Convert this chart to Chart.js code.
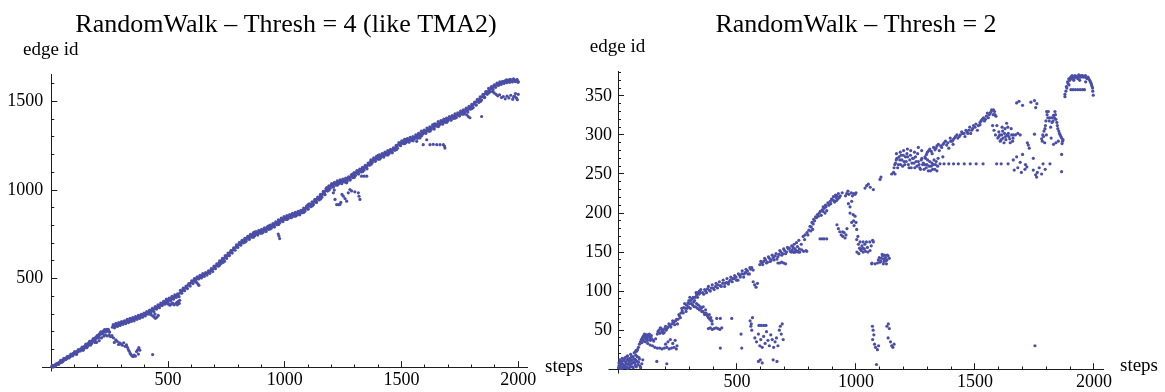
<!DOCTYPE html>
<html><head><meta charset="utf-8">
<script src="https://cdn.jsdelivr.net/npm/chart.js@4"></script>
<style>
html,body{margin:0;padding:0;background:#fff;width:1165px;height:392px;overflow:hidden}
canvas{position:absolute;top:0}
#cA{left:0}
#cB{left:582px}
</style></head><body>
<canvas id="cA" width="582" height="392"></canvas>
<canvas id="cB" width="583" height="392"></canvas>
<script>
// ---------- text / tick labels ----------
const titleA = "RandomWalk – Thresh = 4 (like TMA2)";
const titleB = "RandomWalk – Thresh = 2";
const xAxisLabel = "steps";
const yAxisLabel = "edge id";
const xTickLabels = [500, 1000, 1500, 2000];
const yTickLabelsA = [500, 1000, 1500];
const yTickLabelsB = [50, 100, 150, 200, 250, 300, 350];

// ---------- left chart: Thresh = 4 (step, edge id) ----------
const startA = [[2,3],[5,1],[8,8],[11,5],[14,12],[17,9],[20,17],[23,14],[27,22],[30,19],[34,28],[37,25],[41,33],[44,30],[48,40],[52,36],[55,46],[59,42],[63,52],[66,48],[70,58],[74,55],[78,64],[82,60],[86,70],[90,67],[94,78],[98,74],[102,84],[106,80],[110,90],[114,86],[118,97],[122,93],[126,104],[130,100],[134,111],[138,107],[142,118],[146,114],[150,126],[154,121],[158,134],[162,129],[166,142],[170,137],[174,150],[178,146],[182,158],[186,154],[190,168],[194,163],[198,180],[202,175],[206,188],[210,184],[214,196],[218,192],[222,204],[226,199],[230,210],[234,206],[238,214],[242,209],[246,204],[250,198],[108,72],[136,95],[152,110],[168,125],[186,140],[194,140],[205,150],[215,165],[225,175]];
const startA2 = [[4,10],[9,2],[16,6],[24,20],[32,16],[40,38],[46,28],[54,50],[62,44],[68,60],[76,52],[84,74],[92,64],[100,88],[108,80],[116,100],[124,92],[132,114],[140,104],[148,130],[156,118],[164,146],[172,132],[180,162],[188,148],[196,176],[204,168],[212,200],[220,190],[228,212],[236,200],[244,214]];
const dipA = [[232,182],[240,176],[248,182],[254,172],[260,178],[266,166],[270,140],[276,155],[282,146],[288,128],[292,138],[298,132],[304,124],[310,138],[316,118],[322,126],[326,112],[330,100],[334,90],[338,78],[342,70],[346,64],[350,60],[355,68],[360,62],[365,88],[370,98],[375,110],[379,96],[373,74],[434,71]];
const bandA1 = [[262,226],[268,232],[274,236],[280,240],[286,238],[292,244],[298,248],[304,250],[310,254],[316,252],[322,258],[328,262],[334,260],[340,266],[346,270],[352,268],[358,274],[364,278],[370,282],[376,280],[382,288],[388,292],[394,296],[400,300],[406,304],[412,302],[418,310],[424,316],[430,320],[436,324],[442,330],[448,334],[454,340],[460,344],[466,350],[472,356],[478,360],[484,364],[490,370],[496,374],[502,380],[508,384],[514,388],[520,392],[526,396],[532,400],[538,404],[544,408],[426,296],[434,290],[440,284],[446,276],[452,282],[458,292],[444,300],[496,362],[502,356],[508,350],[514,356],[520,362],[526,352],[532,358],[538,366],[544,372],[550,378],[548,360],[540,352]];
const bandA2 = [[552,420],[558,428],[564,436],[570,444],[576,450],[582,458],[588,464],[594,472],[600,478],[606,486],[612,492],[618,498],[624,502],[630,506],[636,510],[642,514],[648,518],[654,522],[660,526],[666,530],[672,534],[678,540],[684,546],[690,552],[696,560],[702,568],[708,575],[714,582],[720,590],[726,598],[732,605],[738,612],[744,620],[750,626],[756,634],[762,642],[768,650],[774,658],[780,665],[786,672],[792,680],[798,688],[615,485],[622,478],[628,470],[632,462],[720,575],[736,592],[742,598],[760,630]];
const bandA3 = [[804,694],[810,700],[816,708],[822,712],[828,718],[834,724],[840,730],[846,736],[852,740],[858,744],[864,748],[870,752],[876,756],[882,758],[888,762],[894,766],[900,768],[906,772],[912,776],[918,778],[924,782],[930,788],[936,792],[942,796],[948,800],[954,806],[960,810],[966,816],[972,822],[978,828],[984,832],[990,836],[996,840],[1002,844],[1008,846],[1014,850],[1020,852],[1026,856],[1032,858],[1038,862],[1044,864],[1050,866],[1056,870],[1062,872],[1068,876],[1074,882],[1080,888],[1086,894],[1092,900],[1098,906],[1104,912],[1110,918],[1116,924],[1122,930],[1128,938],[1134,944],[1140,950],[1146,958],[1152,966],[1158,974],[1164,982],[1170,990],[1176,998],[1182,1006],[1188,1014],[1194,1021],[1200,1026],[1206,1030],[1212,1034],[1218,1038],[1224,1042],[1230,1044],[1236,1048],[1242,1050],[1248,1052],[1254,1055],[1260,1058],[1266,1060],[1272,1064],[1278,1070],[1284,1076],[1290,1082],[1296,1088],[1302,1094],[1308,1100],[1314,1104],[1320,1108],[1326,1114],[1332,1118],[1338,1124],[1344,1130],[1350,1134],[1356,1142],[1362,1152],[1368,1160],[1374,1166],[1380,1172],[1386,1176],[1392,1180],[1398,1184],[1404,1188],[1410,1192],[1416,1196],[1422,1200],[1428,1204],[1434,1208],[1440,1212],[1446,1216],[1452,1220],[1458,1224],[1464,1228],[1470,1234],[1476,1242],[1482,1250],[1488,1258],[1494,1264],[1500,1268],[1508,1272],[1516,1276],[1524,1280],[1532,1284],[1540,1288],[1548,1292],[1556,1298],[1564,1304],[1572,1310],[1580,1316],[1588,1322],[1596,1328],[1604,1334],[1612,1340],[1620,1346],[1628,1352],[1636,1359],[1644,1364],[1652,1370],[1660,1376],[1668,1382],[1676,1386],[1684,1392],[1692,1397],[1700,1402],[1708,1406],[1716,1412],[1724,1416],[1732,1420],[1740,1426],[1748,1432],[1756,1438],[1764,1442],[1772,1448],[1780,1454],[1788,1462],[1796,1470],[1804,1478],[1812,1488],[1820,1498],[1828,1506],[1836,1516],[1844,1526],[1852,1536],[1860,1546],[1868,1556],[1876,1566],[1884,1574],[1892,1582],[1900,1590],[1908,1596],[1916,1600],[1924,1604],[1932,1608],[1940,1610],[1948,1612],[1956,1614],[1964,1616],[1972,1618],[1980,1620],[1988,1618],[1996,1616]];
const thickA = [[265,240],[271,222],[277,248],[283,230],[289,252],[295,236],[301,258],[307,242],[313,262],[319,246],[325,270],[331,252],[337,276],[343,258],[349,280],[355,262],[361,286],[367,270],[373,292],[379,276],[385,298],[391,282],[397,306],[403,290],[409,314],[415,300],[421,322],[427,306],[433,332],[439,314],[445,342],[451,328],[457,352],[463,336],[469,362],[475,348],[481,372],[487,356],[493,384],[499,366],[505,390],[511,374],[517,400],[523,384],[529,408],[535,394],[541,414],[547,398],[553,434],[559,418],[565,446],[571,432],[577,458],[583,444],[589,472],[595,458],[601,488],[607,472],[613,500],[619,488],[625,510],[631,498],[637,518],[643,504],[649,528],[655,512],[661,534],[667,520],[673,544],[679,530],[685,556],[691,540],[697,570],[703,556],[709,584],[715,570],[721,600],[727,586],[733,614],[739,600],[745,630],[751,614],[757,644],[763,630],[769,658],[775,644],[781,674],[787,660],[793,690],[799,676],[805,704],[811,690],[817,716],[823,702],[829,728],[835,712],[841,738],[847,724],[853,750],[859,734],[865,758],[871,742],[877,766],[883,750],[889,772],[895,756],[901,778],[907,762],[913,786],[919,770],[925,792],[931,778],[937,802],[943,786],[949,810],[955,794],[961,820],[967,804],[973,832],[979,816],[985,842],[991,826],[997,850],[1003,834],[1009,856],[1015,840],[1021,862],[1027,846],[1033,868],[1039,852],[1045,874],[1051,858],[1057,880],[1063,864],[1069,886],[1075,872],[1081,898],[1087,882],[1093,910],[1099,894],[1105,922],[1111,906],[1117,934],[1123,918],[1129,948],[1135,932],[1141,960],[1147,944],[1153,976],[1159,960],[1165,992],[1171,976],[1177,1008],[1183,994],[1189,1024],[1195,1010],[1201,1036],[1207,1020],[1213,1044],[1219,1028],[1225,1052],[1231,1036],[1237,1058],[1243,1040],[1249,1062],[1255,1046],[1261,1068],[1267,1050],[1273,1074],[1279,1060],[1285,1086],[1291,1070],[1297,1098],[1303,1082],[1309,1110],[1315,1094],[1321,1118],[1327,1102],[1333,1128],[1339,1112],[1345,1140],[1351,1124],[1357,1152],[1363,1140],[1369,1170],[1375,1156],[1381,1182],[1387,1166],[1393,1190],[1399,1174],[1405,1198],[1411,1182],[1417,1206],[1423,1190],[1429,1214],[1435,1198],[1441,1222],[1447,1206],[1453,1230],[1459,1214],[1465,1238],[1471,1224],[1477,1252],[1483,1236],[1489,1268],[1495,1254],[1501,1278],[1507,1262],[1513,1286],[1519,1268],[1525,1290],[1531,1274],[1537,1298],[1543,1280],[1549,1302],[1555,1288],[1561,1312],[1567,1296],[1573,1320],[1579,1304],[1585,1332],[1591,1316],[1597,1338],[1603,1322],[1609,1350],[1615,1332],[1621,1356],[1627,1342],[1633,1368],[1639,1352],[1645,1374],[1651,1360],[1657,1386],[1663,1368],[1669,1392],[1675,1376],[1681,1400],[1687,1382],[1693,1406],[1699,1392],[1705,1414],[1711,1398],[1717,1420],[1723,1404],[1729,1430],[1735,1410],[1741,1436],[1747,1420],[1753,1446],[1759,1428],[1765,1452],[1771,1436],[1777,1462],[1783,1446],[1789,1472],[1795,1456],[1801,1484],[1807,1466],[1813,1496],[1819,1480],[1825,1512],[1831,1494],[1837,1526],[1843,1508],[1849,1540],[1855,1522],[1861,1556],[1867,1540],[1873,1574],[1879,1556],[1885,1584],[1891,1570],[1897,1594],[1903,1580],[1909,1604],[1915,1590],[1921,1610],[1927,1596],[1933,1614],[1939,1602],[1945,1618],[1951,1606],[1957,1620],[1963,1608],[1969,1622],[1975,1610],[1981,1624],[1987,1612],[1993,1622],[1999,1608]];
const spreadA = [[812,690],[830,706],[848,722],[866,734],[884,746],[902,756],[920,766],[938,780],[956,792],[974,806],[992,822],[1010,834],[1028,844],[1046,852],[1064,860],[1082,874],[1100,892],[1118,910],[1136,930],[1154,950],[1172,974],[1190,1000],[1208,1016],[1226,1028],[1244,1036],[1262,1044],[1280,1056],[1298,1072],[1316,1090],[1334,1104],[1352,1120],[1370,1146],[1388,1162],[1406,1174],[1424,1186],[1442,1198],[1460,1210],[1478,1228],[1496,1250],[1514,1262],[1532,1270],[1550,1278],[1568,1292],[1586,1306],[1604,1320],[1622,1332],[1640,1344],[1658,1358],[1676,1372],[1694,1382],[1712,1394],[1730,1406],[1748,1418],[1766,1428],[1784,1440],[1802,1460],[1820,1480],[1838,1500],[1856,1524],[1874,1548],[1892,1566],[870,762],[930,796],[1010,852],[1100,918],[1180,1014],[1290,1090],[1400,1196],[1520,1286],[1640,1372],[1760,1446]];
const excursA = [[972,752],[975,740],[978,726],[1201,1031],[1208,984],[1215,947],[1222,918],[1230,918],[1236,918],[1265,937],[1251,965],[1245,975],[1258,952],[1272,984],[1279,1003],[1286,995],[1265,1041],[1300,990],[1315,984],[1322,947],[1318,965],[1329,1078],[1340,1078],[1351,1078],[1212,1000],[1240,930],[1565,1275],[1579,1294],[1593,1256],[1608,1284],[1622,1256],[1636,1258],[1651,1256],[1665,1256],[1679,1256],[1686,1237],[1684,1248],[1779,1425],[1786,1415],[1793,1408],[1843,1415]];
const topA = [[1890,1555],[1897,1548],[1905,1540],[1912,1532],[1920,1538],[1928,1522],[1936,1528],[1944,1515],[1952,1530],[1960,1520],[1968,1535],[1976,1512],[1984,1530],[1992,1520],[2000,1540],[1996,1510],[1988,1545],[1980,1525],[1950,1622],[1965,1625],[1980,1628],[1995,1624],[2000,1612]];

// ---------- right chart: Thresh = 2 (step, edge id) ----------
const originB = [[2,2],[4,8],[6,4],[8,12],[10,1],[12,6],[14,10],[16,3],[18,14],[20,7],[22,2],[25,11],[28,5],[30,15],[33,9],[36,3],[38,12],[40,17],[43,6],[46,10],[48,2],[50,14],[53,19],[56,7],[58,12],[60,3],[63,16],[66,9],[68,21],[70,13],[73,5],[75,18],[78,23],[80,10],[84,6],[88,15],[92,4],[5,5],[9,3],[13,9],[17,1],[21,11],[24,4],[27,13],[31,2],[34,7],[37,16],[41,1],[44,13],[47,8],[51,4],[54,11],[57,16],[61,8],[64,2],[67,13],[71,8],[74,12],[77,3],[81,16],[86,9],[90,13],[95,2],[100,7],[104,12]];
const riseB = [[72,22],[76,24],[82,25],[86,28],[90,32],[94,35],[98,38],[102,40],[106,42],[110,44],[114,41],[118,43],[122,40],[126,44],[130,42],[134,39],[138,41],[145,38],[150,36],[158,39],[165,45],[172,50],[178,53],[184,48],[190,46],[196,52],[202,50],[210,54],[218,56],[226,58],[234,60],[242,62],[250,58],[252,64],[258,68],[264,72],[270,75],[276,79],[282,78],[288,82],[294,85],[300,84],[306,88],[312,90],[318,86],[324,92],[330,95],[336,98],[342,100],[348,102],[286,74],[296,80],[304,78],[314,82],[320,80],[104,38],[108,42],[112,45],[116,39],[120,44],[124,37],[128,43],[132,45],[136,37],[140,43],[168,48],[176,46],[182,52],[188,50],[194,47],[200,55],[206,52],[214,58],[222,54],[230,62],[238,57],[246,64],[256,70],[262,66],[268,78],[274,72],[280,84],[290,78],[298,88],[302,92],[308,84],[316,92],[322,88],[328,98],[334,92],[340,96],[346,98]];
const lowB = [[100,34],[108,36],[115,35],[125,33],[135,31],[145,30],[155,28],[165,27],[175,27],[185,26],[195,27],[205,28],[215,26],[225,27],[235,28],[245,26],[200,32],[210,35],[220,38],[230,33],[240,37],[248,30],[163,10],[205,7]];
const dropB = [[326,80],[334,78],[342,76],[350,78],[356,74],[362,72],[368,76],[374,70],[380,66],[386,64],[392,62],[396,58],[380,52],[388,53],[396,51],[404,52],[412,53],[420,52],[428,51],[436,53],[415,65],[430,65],[478,65],[430,27],[517,45],[520,27],[330,84],[338,82],[346,80],[352,74],[358,80],[364,70],[370,72],[376,68],[384,70],[390,66],[395,62]];
const bandB1 = [[360,96],[368,100],[376,103],[384,101],[392,104],[400,104],[410,106],[420,108],[430,107],[440,110],[448,106],[456,111],[464,109],[472,114],[480,112],[488,116],[496,118],[504,114],[512,120],[520,122],[528,118],[536,124],[544,126],[552,122],[558,128],[562,130],[568,127],[568,112],[574,108],[580,105],[586,110],[596,134],[604,136],[612,138],[620,140],[628,137],[636,142],[644,140],[652,143],[660,145],[668,141],[676,147],[684,150],[692,148],[700,152],[708,150],[716,154],[724,151],[732,153],[740,150],[748,152],[756,151],[764,150],[772,153],[780,151],[790,152],[672,136],[680,136],[688,137],[696,136],[704,135]];
const bandB1b = [[356,98],[364,102],[372,98],[380,106],[388,100],[396,108],[404,102],[412,110],[418,104],[426,112],[434,106],[442,114],[450,110],[458,116],[466,112],[474,118],[482,116],[490,120],[498,114],[506,122],[514,118],[522,126],[530,122],[538,128],[546,122],[554,130],[600,138],[608,134],[616,142],[624,136],[632,144],[640,138],[648,146],[656,140],[664,148],[672,144],[680,152],[688,146],[696,154],[704,148],[712,156],[728,150],[736,156],[744,154],[754,157],[762,154],[770,160],[784,166],[798,172]];
const scatterB = [[555,62],[558,55],[562,50],[565,66],[560,58],[575,40],[582,35],[590,45],[596,30],[600,38],[606,28],[612,42],[618,33],[624,48],[630,37],[636,30],[642,44],[648,38],[654,28],[660,35],[666,40],[672,30],[678,50],[682,55],[686,45],[690,58],[694,38],[592,56],[602,56],[612,56],[622,56],[590,10],[598,12],[606,8],[652,12],[668,10]];
const bandB2 = [[720,155],[730,158],[740,160],[750,162],[760,165],[737,150],[745,150],[752,151],[758,150],[793,151],[778,170],[786,172],[794,175],[802,178],[810,177],[818,179],[807,183],[815,188],[822,192],[830,195],[838,198],[846,200],[854,197],[862,202],[870,200],[877,203],[849,167],[858,167],[866,167],[877,167],[862,208],[872,210],[882,213],[892,215],[902,217],[910,214],[918,216],[897,218],[905,221],[914,223],[920,222],[926,225],[930,220],[920,185],[926,180],[932,176],[938,172],[945,170],[950,175],[954,168],[961,225],[970,224],[980,226],[990,225],[996,224],[968,212],[975,208],[982,215],[975,200],[988,198],[996,196],[982,188],[992,184],[1003,179],[1003,166],[1010,160],[1015,155],[1022,152],[1030,150],[1040,151],[1050,150],[1059,152],[1017,163],[1030,163],[1044,163],[1058,163],[1073,163],[1004,150],[1012,148],[1020,153],[1028,155],[1035,154],[1066,135]];
const bandB2b = [[812,182],[820,186],[826,190],[834,194],[842,196],[850,202],[858,204],[866,206],[874,208],[886,210],[894,212],[906,216],[916,220],[924,218],[934,222],[942,226],[956,222],[966,228],[985,222],[1000,226],[944,176],[958,172],[962,180],[1000,188],[1008,170],[990,190],[1025,158],[1037,160],[1048,156],[1064,158],[1070,165]];
const clusterB = [[1094,140],[1100,137],[1106,142],[1112,145],[1118,138],[1124,143],[1130,140],[1135,145],[1110,147],[1120,146],[1128,135],[1067,136],[1080,135],[1090,136],[1069,55],[1072,50],[1075,44],[1070,38],[1078,32],[1082,28],[1090,25],[1095,30],[1086,6],[1130,55],[1136,58],[1140,52],[1135,40],[1145,35],[1150,30],[1155,28],[1160,32],[1752,30],[1098,143],[1104,138],[1116,141],[1126,139],[1132,146],[1140,142],[1115,135]];
const midB = [[1038,232],[1045,235],[1052,237],[1060,233],[1073,230],[1101,243],[1105,246],[1150,250],[1158,252],[1164,250]];
const denseB = [[1160,258],[1166,264],[1172,270],[1178,262],[1184,268],[1190,274],[1196,260],[1202,266],[1208,272],[1214,276],[1220,262],[1226,268],[1232,258],[1238,270],[1244,264],[1250,272],[1256,260],[1262,266],[1268,258],[1274,268],[1280,262],[1286,256],[1292,270],[1298,262],[1304,254],[1310,266],[1316,260],[1322,256],[1328,268],[1334,262],[1340,254],[1170,276],[1186,278],[1200,280],[1216,282],[1230,280],[1246,278],[1262,284],[1276,280],[1163,262],[1169,268],[1175,258],[1181,272],[1187,262],[1193,268],[1199,274],[1205,262],[1211,266],[1217,272],[1223,258],[1229,274],[1235,264],[1241,270],[1247,258],[1253,266],[1259,276],[1265,262],[1271,256],[1277,270],[1283,264],[1289,262],[1295,258],[1301,268],[1307,260],[1313,254],[1319,264],[1325,262],[1331,256],[1337,266],[1343,260]];
const lineB = [[1353,263],[1370,263],[1390,263],[1410,263],[1430,263],[1455,263],[1480,263],[1505,263],[1534,263],[1591,263],[1610,263],[1639,263],[1786,263],[1815,263],[1864,275],[1864,253]];
const upperB = [[1290,272],[1300,278],[1310,282],[1320,276],[1332,281],[1340,286],[1350,280],[1360,284],[1370,290],[1381,287],[1390,283],[1398,292],[1408,288],[1345,270],[1365,272],[1408,294],[1418,298],[1428,296],[1438,300],[1448,302],[1458,298],[1466,304],[1474,306],[1482,302],[1490,308],[1500,310],[1510,306],[1521,313],[1521,316],[1530,320],[1540,318],[1548,324],[1556,322],[1564,328],[1570,332],[1576,326],[1582,330],[1588,324],[1574,312],[1580,306],[1586,300],[1592,312],[1600,304],[1296,275],[1306,280],[1316,279],[1326,284],[1336,283],[1346,288],[1356,286],[1366,288],[1376,292],[1386,290],[1396,296],[1404,292],[1414,296],[1424,300],[1434,298],[1444,304],[1454,302],[1462,306],[1470,302],[1478,310],[1486,306],[1494,312],[1504,314],[1514,312],[1526,318],[1536,322],[1544,320],[1552,328],[1560,326],[1568,330],[1578,332],[1584,326]];
const clusterB2 = [[1596,296],[1604,300],[1610,294],[1616,305],[1622,290],[1628,298],[1633,315],[1640,302],[1646,295],[1652,308],[1658,292],[1661,300],[1670,300],[1680,302],[1690,300],[1661,268],[1675,272],[1690,265],[1700,275],[1712,262],[1724,287],[1728,283],[1720,290],[1745,270],[1665,255],[1680,258],[1695,252],[1710,256],[1718,259],[1745,255],[1755,249],[1762,252],[1770,258],[1780,250],[1795,256],[1759,246],[1750,301],[1675,341],[1685,343],[1700,338],[1735,342],[1750,344],[1760,340],[1755,335],[1600,298],[1606,292],[1612,300],[1618,296],[1624,302],[1630,294],[1636,300],[1642,298],[1648,290],[1654,300],[1660,296],[1614,310],[1626,308],[1638,310]];
const rightB = [[1780,295],[1785,300],[1790,305],[1796,312],[1801,330],[1806,322],[1812,318],[1818,310],[1824,316],[1830,325],[1836,330],[1840,320],[1846,312],[1852,305],[1858,300],[1864,296],[1870,294],[1830,288],[1840,290],[1850,292],[1866,289],[1820,296],[1800,300],[1793,290],[1783,292],[1788,298],[1794,308],[1798,318],[1803,326],[1808,330],[1814,322],[1822,322],[1828,318],[1834,322],[1838,326],[1844,316],[1848,308],[1855,302],[1861,298],[1868,292]];
const topB = [[1878,349],[1878,352],[1882,356],[1886,360],[1891,366],[1898,370],[1905,372],[1912,374],[1920,376],[1928,375],[1936,377],[1944,374],[1952,376],[1960,375],[1968,373],[1975,374],[1982,370],[1988,366],[1992,362],[1995,356],[1997,351],[1903,358],[1912,358],[1922,358],[1932,358],[1942,358],[1952,358],[1960,358],[1895,364],[1915,370],[1940,370],[1965,368],[1884,362],[1889,368],[1894,372],[1902,374],[1908,376],[1916,372],[1924,374],[1932,372],[1938,374],[1946,376],[1956,374],[1964,376],[1972,372],[1978,372],[1985,368],[1990,364],[1994,360]];

// ---------- helpers ----------
const seriesA = [].concat(startA, startA2, dipA, bandA1, bandA2, bandA3, thickA, spreadA, excursA, topA);
const seriesB = [].concat(originB, riseB, lowB, dropB, bandB1, bandB1b, scatterB, bandB2, bandB2b, clusterB, midB, denseB, lineB, upperB, clusterB2, rightB, topB);

const FONT = '"Liberation Serif", "Times New Roman", serif';
const AXIS = '#1c1c1c';
const DOT = '#4a4ea6';

// axis-end labels (Mathematica style) and the short axis overhang at the origin
const axisLabels = {
  id: 'axisLabels',
  beforeDatasetsDraw(chart, args, o) {
    const ctx = chart.ctx;
    const xs = chart.scales.x, ys = chart.scales.y;
    const x0 = Math.round(xs.getPixelForValue(0)) + 0.5;
    const y0 = Math.round(ys.getPixelForValue(0)) + 0.5;
    ctx.save();
    ctx.strokeStyle = AXIS;
    ctx.lineWidth = 1;
    ctx.beginPath();
    ctx.moveTo(x0 - o.xExt, y0); ctx.lineTo(x0, y0);
    ctx.moveTo(x0, y0); ctx.lineTo(x0, y0 + o.yExt);
    ctx.stroke();
    ctx.restore();
  },
  afterDraw(chart, args, o) {
    const ctx = chart.ctx;
    const x0 = chart.scales.x.getPixelForValue(0);
    ctx.save();
    ctx.fillStyle = '#000';
    ctx.font = '19px ' + FONT;
    ctx.textBaseline = 'alphabetic';
    ctx.textAlign = 'center';
    ctx.fillText(o.yText, x0 + o.yDx, o.yBase);
    ctx.textAlign = 'left';
    ctx.fillText(o.xText, chart.chartArea.right + o.xDx, o.xBase);
    ctx.restore();
  }
};

function isMajor(c, list) { return !!(c.tick && list.includes(c.tick.value)); }

function makeChart(id, cfg) {
  const xLabels = xTickLabels;
  const yLabels = cfg.yLabels;
  return new Chart(document.getElementById(id), {
    type: 'scatter',
    data: { datasets: [{
      data: cfg.points.map(p => ({x: p[0], y: p[1]})),
      pointRadius: 1.6, pointHoverRadius: 1.6, borderWidth: 0,
      backgroundColor: DOT, borderColor: DOT, clip: false
    }]},
    plugins: [axisLabels],
    options: {
      responsive: false, animation: false, devicePixelRatio: 1,
      layout: { padding: { left: 0, right: cfg.padR, top: 0, bottom: 0 } },
      plugins: {
        legend: { display: false }, tooltip: { enabled: false },
        title: { display: true, text: cfg.title, color: '#000',
          font: { family: FONT, size: 26, weight: 'normal', lineHeight: 1.2 },
          padding: { top: cfg.titleTop, bottom: cfg.titleBottom } },
        axisLabels: { xText: xAxisLabel, yText: yAxisLabel, yDx: cfg.yDx, yBase: cfg.yBase, xDx: cfg.xDx, xBase: cfg.xBase, xExt: cfg.xExt, yExt: 4 }
      },
      scales: {
        x: {
          type: 'linear', position: 'bottom', min: 0, max: cfg.xMax,
          grid: { display: true, drawOnChartArea: false, drawTicks: true, tickLength: -6,
            color: AXIS, tickColor: AXIS, tickWidth: 1,
            tickBorderDash: (c) => isMajor(c, xLabels) ? [] : [3.5, 100] },
          border: { display: true, color: AXIS, width: 1 },
          ticks: { stepSize: 100, includeBounds: false, autoSkip: false, maxRotation: 0, minRotation: 0,
            padding: cfg.xPad, color: '#000', font: { family: FONT, size: 18 },
            callback: (v) => xLabels.includes(v) ? String(v) : '' },
          afterFit: (s) => { s.height = cfg.xHeight; }
        },
        y: {
          type: 'linear', position: 'left', min: 0, max: cfg.yMax,
          grid: { display: true, drawOnChartArea: false, drawTicks: true, tickLength: -6,
            color: AXIS, tickColor: AXIS, tickWidth: 1,
            tickBorderDash: (c) => isMajor(c, yLabels) ? [] : [0, 3, 3, 100] },
          border: { display: true, color: AXIS, width: 1 },
          ticks: { stepSize: cfg.yStep, includeBounds: false, autoSkip: false,
            padding: cfg.yPad, color: '#000', font: { family: FONT, size: 18 },
            callback: (v) => yLabels.includes(v) ? String(v) : '' },
          afterFit: (s) => { s.width = cfg.yWidth; }
        },
        spacer: {
          type: 'linear', position: 'right', display: true,
          grid: { display: false }, border: { display: false }, ticks: { display: false },
          afterFit: (s) => { s.width = cfg.spacer; }
        }
      }
    }
  });
}

makeChart('cA', {
  title: titleA, points: seriesA, yLabels: yTickLabelsA,
  xMax: 2040, yMax: 1655, yStep: 100,
  padR: 10, yWidth: 51.3, spacer: 44.4, xHeight: 23.7,
  titleTop: 9.4, titleBottom: 33.4,
  xPad: 8, yPad: 14, xExt: 9.5,
  yDx: -0.5, yBase: 55, xDx: 17.4, xBase: 372
});
makeChart('cB', {
  title: titleB, points: seriesB, yLabels: yTickLabelsB,
  xMax: 2040, yMax: 381, yStep: 10,
  padR: 35, yWidth: 36, spacer: 26.5, xHeight: 21.5,
  titleTop: 9.4, titleBottom: 31.1,
  xPad: 8, yPad: 12, xExt: 10,
  yDx: -0.5, yBase: 52, xDx: 16.5, xBase: 371
});
</script>
</body></html>
